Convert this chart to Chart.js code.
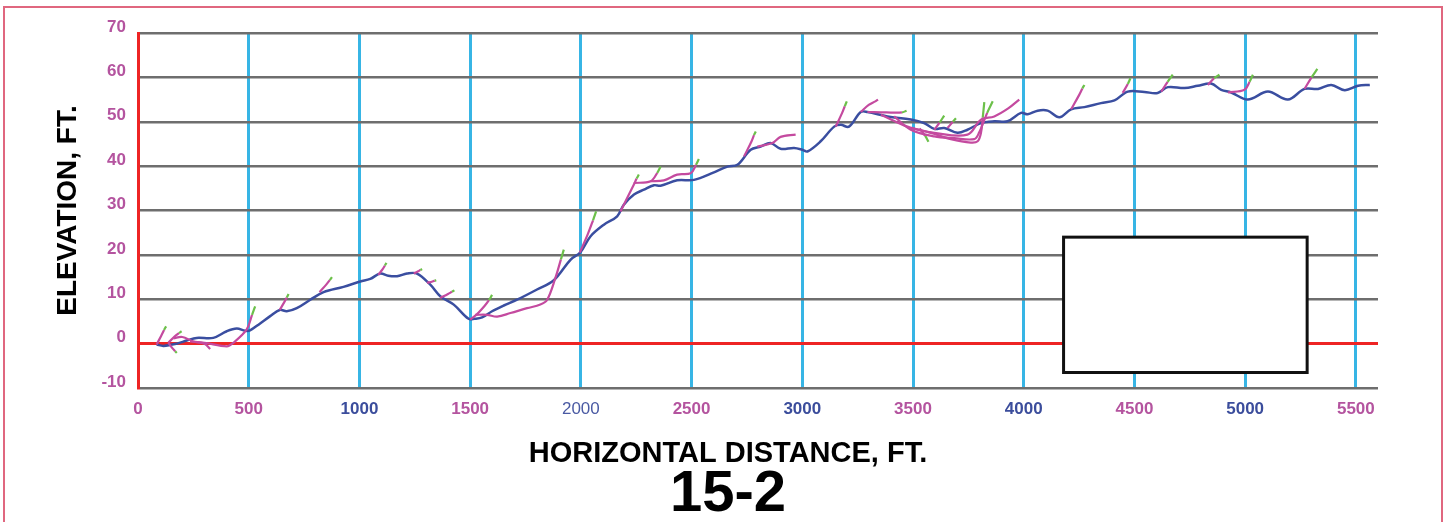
<!DOCTYPE html>
<html>
<head>
<meta charset="utf-8">
<script src="https://cdn.jsdelivr.net/npm/chart.js@4/dist/chart.umd.min.js"></script>
<style>
  html, body { margin: 0; padding: 0; background: #fff; overflow: hidden; }
  #frame { position: absolute; left: 3px; top: 6px; width: 1436px; height: 600px; border: 2px solid #e0677f; }
  canvas { position: absolute; left: 0; top: 0; }
</style>
</head>
<body>
<div id="frame"></div>
<canvas id="profile" width="1443" height="522"></canvas>
<script>
// tick labels
const xTicks = [0, 500, 1000, 1500, 2000, 2500, 3000, 3500, 4000, 4500, 5000, 5500];
const xTickColors = ['#b4549f', '#b4549f', '#3b4d9c', '#b4549f', '#4a5aa3', '#b4549f', '#3b4d9c', '#b4549f', '#3b4d9c', '#b4549f', '#3b4d9c', '#b4549f'];
const yTicks = [-10, 0, 10, 20, 30, 40, 50, 60, 70];

// main ground profile [distance, elevation]
const profile = [
  [84, -0.2], [115, -0.5], [175, 0], [220, 0.7], [265, 1.3], [340, 1.3], [401, 2.8], [446, 3.4], [484, 2.9],
  [506, 3.0], [550, 4.5], [597, 6.2], [640, 7.6], [672, 7.3], [717, 8], [778, 9.9], [838, 11.6], [928, 12.8],
  [1004, 14], [1049, 14.6], [1094, 15.8], [1130, 15.3], [1170, 15.2], [1215, 15.8], [1260, 15.8], [1320, 13.3],
  [1365, 10.7], [1426, 8.8], [1493, 5.6], [1520, 5.6], [1554, 5.9], [1599, 7.3], [1652, 8.6], [1712, 9.9],
  [1802, 12.2], [1878, 14.3], [1953, 18.9], [1998, 20.6], [2044, 24.2], [2104, 26.8], [2164, 28.7], [2194, 31.3],
  [2240, 33.6], [2285, 34.7], [2330, 35.7], [2360, 35.6], [2435, 36.8], [2511, 36.9], [2601, 38.6], [2662, 39.9],
  [2707, 40.3], [2767, 43.7], [2812, 44.4], [2857, 45.2], [2902, 43.9], [2963, 44.1], [3000, 43.7], [3023, 43.3],
  [3083, 45.6], [3144, 48.9], [3174, 49.3], [3211, 48.9], [3264, 52.2], [3294, 52.2], [3385, 51.2], [3490, 50.5],
  [3550, 49.7], [3596, 48.4], [3641, 48.6], [3701, 47.5], [3746, 48.2], [3807, 49.7], [3867, 50.1], [3927, 50.1],
  [3988, 52], [4018, 51.7], [4063, 52.5], [4108, 52.5], [4161, 51], [4214, 52.8], [4274, 53.3], [4349, 54.2],
  [4410, 54.8], [4470, 56.8], [4545, 56.7], [4605, 56.5], [4651, 57.8], [4726, 57.6], [4786, 58.1], [4846, 58.6],
  [4892, 57.2], [4937, 56.6], [5012, 55], [5103, 56.8], [5193, 55], [5268, 57.4], [5329, 57.4], [5389, 58.3],
  [5450, 57.1], [5510, 58.1], [5563, 58.3]
];

// pink branches whose last step is the green tip
const tippedBranches = [
  [[84, -0.2], [105, 1.8], [118, 3.1], [127, 3.9]],
  [[137, 0.2], [165, 1.6], [185, 2.4], [197, 2.8]],
  [[137, 0.2], [155, -1], [168, -1.7], [175, -2.1]],
  [[235, 0.5], [300, 0.2], [401, -0.6], [431, 0.2], [491, 3.2], [515, 6.5], [529, 8.4]],
  [[640, 7.6], [660, 9.3], [672, 10.4], [680, 11.2]],
  [[820, 11.6], [850, 13.3], [866, 14.3], [876, 15]],
  [[1085, 15.5], [1105, 16.8], [1115, 17.6], [1122, 18.2]],
  [[1245, 15.8], [1265, 16.3], [1275, 16.6], [1283, 16.8]],
  [[1305, 13.7], [1330, 14], [1340, 14.2], [1347, 14.3]],
  [[1365, 10.3], [1400, 11.2], [1418, 11.7], [1429, 12]],
  [[1500, 5.4], [1530, 6.6], [1565, 8.5], [1585, 9.8], [1599, 11]],
  [[1523, 6.5], [1576, 6.5], [1622, 6.1], [1682, 6.9], [1757, 8], [1817, 8.8], [1848, 9.9], [1885, 14.8], [1910, 19], [1923, 21.2]],
  [[1995, 20.5], [2030, 24.5], [2055, 27.8], [2069, 29.8]],
  [[2179, 29.8], [2239, 35.8], [2252, 37.2], [2262, 38.1]],
  [[2239, 36.2], [2315, 36.6], [2345, 38.5], [2360, 39.9]],
  [[2315, 36.6], [2375, 36.8], [2435, 38.1], [2496, 38.4], [2520, 40.3], [2533, 41.6]],
  [[2737, 42.2], [2770, 45.5], [2782, 47], [2790, 47.8]],
  [[3151, 48.9], [3180, 52], [3192, 53.5], [3201, 54.6]],
  [[3294, 52.2], [3380, 52.1], [3450, 52.1], [3471, 52.5]],
  [[3355, 51.6], [3475, 48.9], [3581, 47.5], [3671, 46.1], [3761, 45.3], [3792, 45.6], [3807, 47.5], [3815, 51], [3822, 54.4]],
  [[3415, 51.2], [3490, 48.2], [3596, 46.7], [3686, 46.3], [3777, 46.1], [3798, 47.5], [3835, 52], [3860, 54.6]],
  [[3596, 48.2], [3620, 49.8], [3641, 51.4]],
  [[3656, 48.6], [3680, 50], [3694, 50.8]],
  [[3530, 48.5], [3555, 46.8], [3570, 45.5]],
  [[4214, 52.8], [4250, 56], [4265, 57.5], [4274, 58.3]],
  [[4447, 56.5], [4470, 58.5], [4482, 59.8]],
  [[4621, 56.8], [4650, 59], [4673, 60.6]],
  [[4832, 58.3], [4860, 59.8], [4884, 60.6]],
  [[4922, 56.6], [4997, 57.2], [5020, 59], [5035, 60.6]],
  [[5268, 57.4], [5300, 60], [5326, 61.9]]
];

// pink branches without a tip
const plainBranches = [
  [[160, 1.2], [200, 1.5], [250, 0.5], [300, 0], [326, -1.2]],
  [[2797, 44.4], [2865, 45.2], [2902, 46.6], [2970, 47.1]],
  [[3264, 52.2], [3300, 53.8], [3330, 54.6], [3342, 55]],
  [[3490, 48.6], [3596, 47.5], [3746, 47.1], [3807, 50.5], [3867, 51.2], [3930, 53], [3980, 55]]
];

// blank label box, in data units
const boxX = [4180, 5280];
const boxY = [-6.5, 24];

const BLUE = '#3a4ea0';
const PINK = '#c44a9f';
const GREEN = '#6cc04a';
const FONT = "'Liberation Sans', Arial, sans-serif";

const datasets = [{
  data: profile,
  borderColor: BLUE,
  borderWidth: 2.5,
  pointRadius: 0,
  tension: 0.35,
  order: 1
}];
tippedBranches.forEach(b => {
  datasets.push({
    data: b,
    borderColor: PINK,
    borderWidth: 2.2,
    pointRadius: 0,
    tension: 0.35,
    order: 0,
    segment: { borderColor: ctx => ctx.p1DataIndex === b.length - 1 ? GREEN : undefined }
  });
});
plainBranches.forEach(b => {
  datasets.push({ data: b, borderColor: PINK, borderWidth: 2.2, pointRadius: 0, tension: 0.35, order: 0 });
});

const labelBox = {
  id: 'labelBox',
  afterDatasetsDraw(chart) {
    const { ctx, scales: { x, y } } = chart;
    const l = x.getPixelForValue(boxX[0]), r = x.getPixelForValue(boxX[1]);
    const t = y.getPixelForValue(boxY[1]), b = y.getPixelForValue(boxY[0]);
    ctx.save();
    ctx.fillStyle = '#fff';
    ctx.fillRect(l, t, r - l, b - t);
    ctx.lineWidth = 3;
    ctx.strokeStyle = '#111';
    ctx.strokeRect(l, t, r - l, b - t);
    ctx.restore();
  }
};

new Chart(document.getElementById('profile'), {
  type: 'line',
  data: { datasets },
  plugins: [labelBox],
  options: {
    responsive: false,
    animation: false,
    layout: { padding: { left: 13, top: 33, right: 0, bottom: 0 } },
    plugins: {
      legend: { display: false },
      tooltip: { enabled: false },
      title: {
        display: true, position: 'bottom', text: '15-2', color: '#000',
        font: { family: FONT, size: 58, weight: 'bold', lineHeight: 0.92 },
        padding: 0
      },
      subtitle: {
        display: true, position: 'bottom', text: 'HORIZONTAL DISTANCE, FT.', color: '#000',
        font: { family: FONT, size: 29, weight: 'bold', lineHeight: 1.0 },
        padding: 0
      }
    },
    scales: {
      x: {
        type: 'linear', min: 0, max: 5600,
        afterBuildTicks: s => { s.ticks = xTicks.map(v => ({ value: v })); },
        afterFit: s => { s.height = 51.6; },
        border: { display: false },
        grid: {
          drawTicks: false,
          lineWidth: 3,
          color: ctx => ctx.tick && ctx.tick.value === 0 ? 'rgba(0,0,0,0)' : '#37b5e5'
        },
        ticks: {
          padding: 11,
          callback: v => String(v),
          color: ctx => xTickColors[ctx.index],
          font: ctx => ({ family: FONT, size: 17, weight: xTicks[ctx.index] === 2000 ? 'normal' : 'bold' })
        }
      },
      y: {
        type: 'linear', min: -10, max: 70,
        afterBuildTicks: s => { s.ticks = yTicks.map(v => ({ value: v })); },
        afterFit: s => { s.width = 125; },
        border: { color: '#ee2424', width: 3 },
        grid: {
          drawTicks: false,
          lineWidth: ctx => ctx.tick && ctx.tick.value === 0 ? 3 : 2.5,
          color: ctx => ctx.tick && ctx.tick.value === 0 ? '#ee2424' : '#6e6e6e'
        },
        ticks: {
          padding: 12, labelOffset: -6, color: '#b4549f',
          callback: v => String(v),
          font: { family: FONT, size: 17, weight: 'bold' }
        },
        title: {
          display: true, text: 'ELEVATION, FT.', color: '#000',
          font: { family: FONT, size: 28, weight: 'bold', lineHeight: 1.2 },
          padding: { top: 38, bottom: 0 }
        }
      },
      yr: {
        type: 'linear', position: 'right', display: true,
        afterFit: s => { s.width = 65; },
        grid: { display: false, drawTicks: false },
        border: { display: false },
        ticks: { display: false }
      }
    }
  }
});
</script>
</body>
</html>
